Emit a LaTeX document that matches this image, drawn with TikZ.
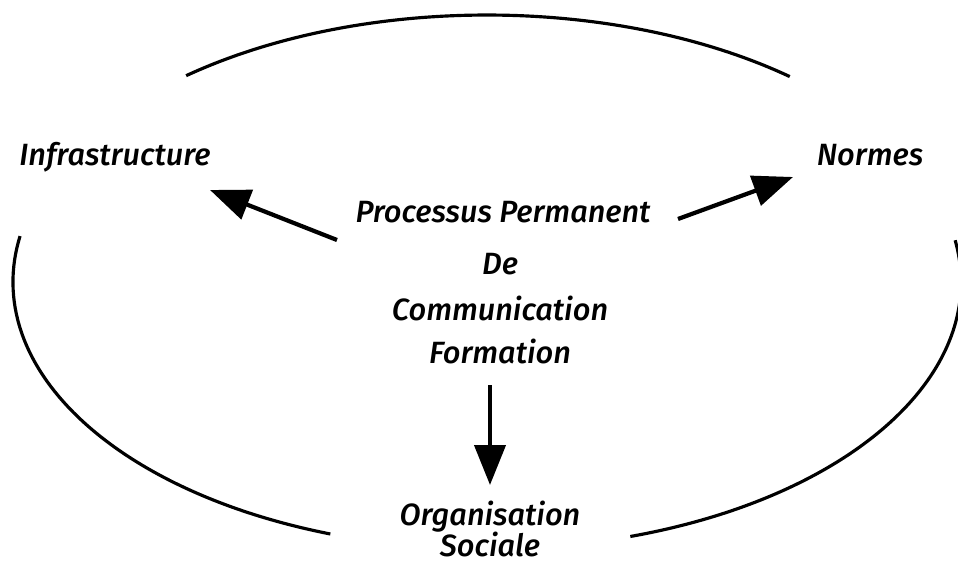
\documentclass[tikz,border=0pt]{standalone}
\usepackage{fontspec}
\setmainfont{Fira Sans}[ItalicFont={Fira Sans Medium Italic}]
\usetikzlibrary{arrows.meta}

\begin{document}
\begin{tikzpicture}[
    mot/.style={font=\fontsize{17.5}{20}\selectfont\itshape, inner sep=0pt, anchor=base},
    bord/.style={line width=1.8pt},
    fleche/.style={line width=2.4pt, -{Triangle[length=0.8cm,width=0.62cm]}}]
  \useasboundingbox (0,0) rectangle (19.16,-11.26);
  % the ring, broken by the labels
  \draw[bord] (9.74,-5.64) ++(50.3:9.48 and 5.34) arc[start angle=50.3, end angle=129.4, x radius=9.48, y radius=5.34];
  \draw[bord] (9.74,-5.64) ++(170.1:9.48 and 5.34) arc[start angle=170.1, end angle=250.7, x radius=9.48, y radius=5.34];
  \draw[bord] (9.74,-5.64) ++(-72.4:9.48 and 5.34) arc[start angle=-72.4, end angle=9, x radius=9.48, y radius=5.34];
  % labels
  \node[mot] (infra) at (2.3,-3.3) {Infrastructure};
  \node[mot] (normes) at (17.4,-3.3) {Normes};
  \node[mot] (proc) at (10.06,-4.44) {Processus Permanent};
  \node[mot] (de) at (10.0,-5.5) {De};
  \node[mot] (comm) at (10.0,-6.4) {Communication};
  \node[mot] (form) at (10.0,-7.26) {Formation};
  \node[mot] (orga) at (9.8,-10.5) {Organisation};
  \node[mot] (soc) at (9.8,-11.12) {Sociale};
  % arrows
  \coordinate (gq) at (6.74,-4.8);  \coordinate (gt) at (4.2,-3.8);
  \coordinate (dq) at (13.56,-4.38); \coordinate (dt) at (15.86,-3.54);
  \coordinate (bq) at (9.8,-7.7);   \coordinate (bt) at (9.8,-9.7);
  \draw[fleche] (gq) -- (gt);
  \draw[fleche] (dq) -- (dt);
  \draw[fleche] (bq) -- (bt);
\end{tikzpicture}
\end{document}
